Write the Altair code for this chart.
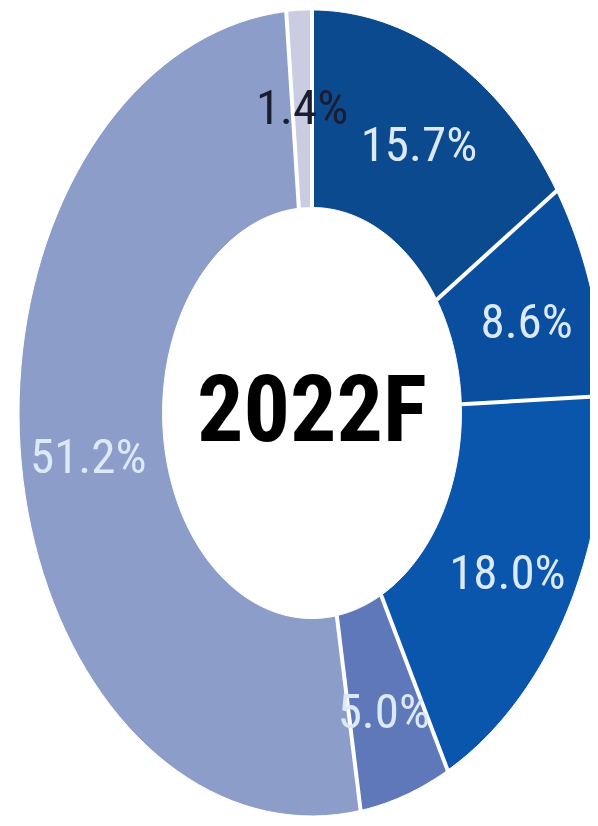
import altair as alt
import pandas as pd

# ---- data ----
segments = ["Seg 1", "Seg 2", "Seg 3", "Seg 4", "Seg 5", "Seg 6"]
shares = [15.7, 8.6, 18.0, 5.0, 51.2, 1.4]
labels = ["15.7%", "8.6%", "18.0%", "5.0%", "51.2%", "1.4%"]
center_label = "2022F"

# ---- styles ----
colors = ["#0b4a8e", "#0a4f9f", "#0a56ad", "#5e78b9", "#8d9dca", "#cacde2"]
FONT = "Roboto Condensed, Liberation Sans Narrow, Liberation Sans, Arial, sans-serif"
W, H = 582, 810
CX, CY = 304, 405          # centre of the ring inside the plot area (px)
RX, RY = 293, 403          # outer radii of the (stretched) ring (px)
INNER = 0.51
LABEL_R = 0.77
N = 80

df = pd.DataFrame({"k": list(range(len(segments))), "segment": segments,
                   "share": shares, "label": labels})

xscale = alt.Scale(domain=[-CX, W - CX], nice=False, zero=False)
yscale = alt.Scale(domain=[-(H - CY), CY], nice=False, zero=False)

base = alt.Chart(df).transform_joinaggregate(
    total="sum(share)"
).transform_window(
    cum="sum(share)", sort=[alt.SortField("k")], frame=[None, 0]
).transform_calculate(
    a0="(datum.cum - datum.share) / datum.total * 2 * PI",
    a1="datum.cum / datum.total * 2 * PI",
)

ring = base.transform_calculate(
    pts=f"sequence(0, {2 * N + 2})"
).transform_flatten(
    ["pts"], as_=["i"]
).transform_calculate(
    t=f"datum.i <= {N} ? datum.a0 + (datum.a1 - datum.a0) * datum.i / {N} : datum.a1 - (datum.a1 - datum.a0) * (datum.i - {N} - 1) / {N}",
    r=f"datum.i <= {N} ? 1 : {INNER}",
).transform_calculate(
    px=f"{RX} * datum.r * sin(datum.t)",
    py=f"{RY} * datum.r * cos(datum.t)",
).mark_line(stroke="white", strokeWidth=1, clip=True).encode(
    x=alt.X("px:Q", scale=xscale, axis=None),
    y=alt.Y("py:Q", scale=yscale, axis=None),
    fill=alt.Fill("segment:N", scale=alt.Scale(domain=segments, range=colors), legend=None),
    detail="k:N",
    order=alt.Order("i:Q"),
)

separators = base.transform_calculate(
    sx1=f"{RX} * {INNER} * sin(datum.a1)",
    sy1=f"{RY} * {INNER} * cos(datum.a1)",
    sx2=f"{RX} * 1.01 * sin(datum.a1)",
    sy2=f"{RY} * 1.01 * cos(datum.a1)",
).mark_rule(color="white", strokeWidth=4, clip=True).encode(
    x=alt.X("sx1:Q", scale=xscale, axis=None),
    y=alt.Y("sy1:Q", scale=yscale, axis=None),
    x2="sx2:Q",
    y2="sy2:Q",
)

text = base.transform_calculate(
    mid="(datum.a0 + datum.a1) / 2",
).transform_calculate(
    lx=f"{RX} * {LABEL_R} * sin(datum.mid)",
    ly=f"{RY} * {LABEL_R} * cos(datum.mid)",
).mark_text(font=FONT, fontSize=49, baseline="middle", align="center", dy=6).encode(
    x=alt.X("lx:Q", scale=xscale, axis=None),
    y=alt.Y("ly:Q", scale=yscale, axis=None),
    text="label:N",
    color=alt.condition("datum.share < 3", alt.value("#1c1c30"), alt.value("#dce9f8")),
)

center = alt.Chart(pd.DataFrame({"t": [center_label]})).mark_text(
    font=FONT, fontSize=92, fontWeight="bold", color="#000000",
    baseline="middle", align="center"
).encode(
    x=alt.datum(0, scale=xscale),
    y=alt.datum(0, scale=yscale),
    text="t:N",
)

chart = alt.layer(ring, separators, text, center).properties(
    width=W, height=H, padding=0, background="white"
).configure_view(stroke=None)

chart.save("out.html", embed_options={"renderer": "svg", "actions": False})
